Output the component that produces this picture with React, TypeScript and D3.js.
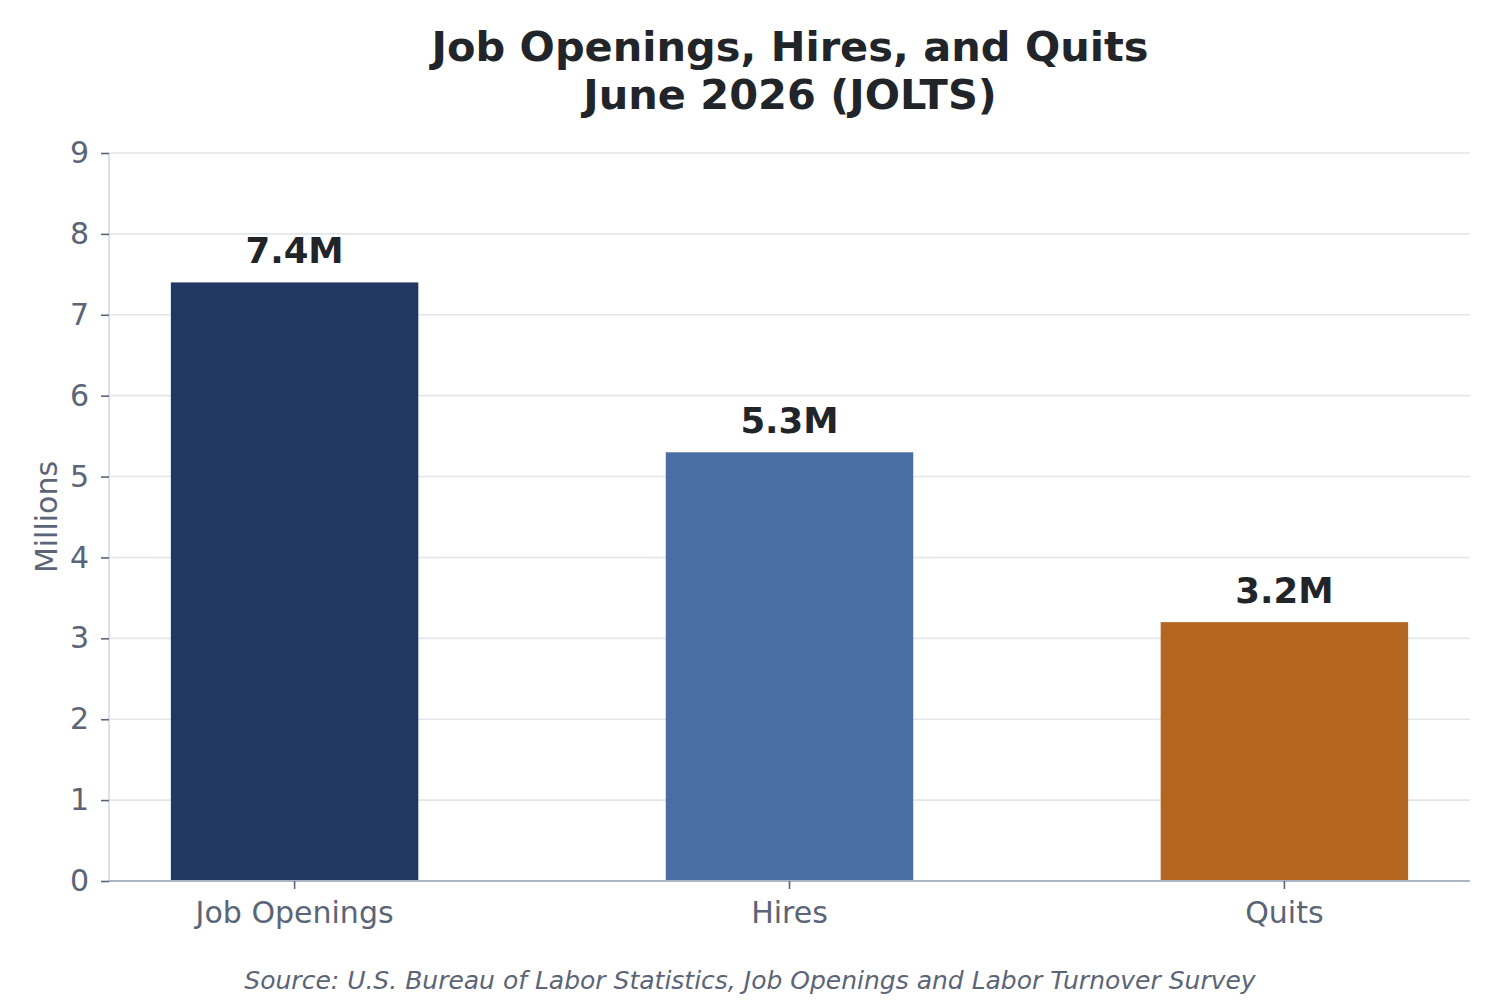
import { useEffect, useRef } from 'react';
import * as d3 from 'd3';

const categories = ['Job Openings', 'Hires', 'Quits'];
const values = [7.4, 5.3, 3.2];
const valueLabels = ['7.4M', '5.3M', '3.2M'];
const barColors = ['#213862', '#4a6ea3', '#b4651f'];
const yTicks = [0, 1, 2, 3, 4, 5, 6, 7, 8, 9];

const FONT = '"DejaVu Sans", sans-serif';

export default function App() {
  const ref = useRef<SVGSVGElement>(null);

  useEffect(() => {
    const svgElement = ref.current;
    if (!svgElement) {
      return;
    }
    const svg = d3.select(svgElement);
    svg.selectAll('*').remove();

    const width = 1500;
    const height = 1000;
    const margin = { top: 153, right: 30, bottom: 119, left: 109 };

    const x = d3
      .scaleBand<string>()
      .domain(categories)
      .range([margin.left, width - margin.right])
      .paddingInner(0.5)
      .paddingOuter(0.125);

    const y = d3
      .scaleLinear()
      .domain([0, 9])
      .range([height - margin.bottom, margin.top]);

    // grid
    svg
      .append('g')
      .selectAll('line')
      .data(yTicks)
      .join('line')
      .attr('x1', margin.left)
      .attr('x2', width - margin.right)
      .attr('y1', (d) => y(d))
      .attr('y2', (d) => y(d))
      .attr('stroke', '#e3e6ea')
      .attr('stroke-width', 1.6);

    // bars
    svg
      .append('g')
      .selectAll('rect')
      .data(values)
      .join('rect')
      .attr('x', (_d, i) => x(categories[i]) ?? 0)
      .attr('y', (d) => y(d))
      .attr('width', x.bandwidth())
      .attr('height', (d) => y(0) - y(d))
      .attr('fill', (_d, i) => barColors[i]);

    // value labels
    svg
      .append('g')
      .selectAll('text')
      .data(values)
      .join('text')
      .attr('x', (_d, i) => (x(categories[i]) ?? 0) + x.bandwidth() / 2)
      .attr('y', (d) => y(d) - 19)
      .attr('text-anchor', 'middle')
      .attr('font-family', FONT)
      .attr('font-weight', 'bold')
      .attr('font-size', 35.5)
      .attr('fill', '#212529')
      .text((_d, i) => valueLabels[i]);

    // left spine
    svg
      .append('line')
      .attr('x1', margin.left)
      .attr('x2', margin.left)
      .attr('y1', y(9))
      .attr('y2', y(0))
      .attr('stroke', '#d5dae1')
      .attr('stroke-width', 1.6);

    // bottom spine
    svg
      .append('line')
      .attr('x1', margin.left)
      .attr('x2', width - margin.right)
      .attr('y1', y(0))
      .attr('y2', y(0))
      .attr('stroke', '#aab4c3')
      .attr('stroke-width', 1.8);

    // y axis
    const yAxis = svg
      .append('g')
      .attr('transform', `translate(${margin.left},0)`)
      .call(d3.axisLeft(y).tickValues(yTicks).tickSize(8).tickPadding(12).tickFormat(d3.format('d')));
    yAxis.select('.domain').remove();
    yAxis.selectAll('line').attr('stroke', '#5b6577').attr('stroke-width', 1.6);
    yAxis
      .selectAll('text')
      .attr('font-family', FONT)
      .attr('font-size', 30)
      .attr('fill', '#5b6577');

    // x axis
    const xAxis = svg
      .append('g')
      .attr('transform', `translate(0,${y(0)})`)
      .call(d3.axisBottom(x).tickSize(8).tickPadding(13));
    xAxis.select('.domain').remove();
    xAxis.selectAll('line').attr('stroke', '#5b6577').attr('stroke-width', 1.6);
    xAxis
      .selectAll('text')
      .attr('font-family', FONT)
      .attr('font-size', 30)
      .attr('fill', '#5b6577');

    // y label
    svg
      .append('text')
      .attr('transform', `translate(57,${(y(0) + y(9)) / 2}) rotate(-90)`)
      .attr('text-anchor', 'middle')
      .attr('font-family', FONT)
      .attr('font-size', 30)
      .attr('fill', '#5b6577')
      .text('Millions');

    // title
    const title = svg
      .append('text')
      .attr('text-anchor', 'middle')
      .attr('font-family', FONT)
      .attr('font-weight', 'bold')
      .attr('font-size', 41.5)
      .attr('fill', '#212529');
    title.append('tspan').attr('x', 790).attr('y', 61).text('Job Openings, Hires, and Quits');
    title.append('tspan').attr('x', 790).attr('y', 109).text('June 2026 (JOLTS)');

    // source
    svg
      .append('text')
      .attr('x', 750)
      .attr('y', 989)
      .attr('text-anchor', 'middle')
      .attr('font-family', FONT)
      .attr('font-style', 'italic')
      .attr('font-size', 25)
      .attr('fill', '#5b6577')
      .text('Source: U.S. Bureau of Labor Statistics, Job Openings and Labor Turnover Survey');
  }, []);

  return (
    <svg
      ref={ref}
      width={1500}
      height={1000}
      viewBox="0 0 1500 1000"
      style={{ position: 'absolute', left: 0, top: 0, background: '#ffffff' }}
    />
  );
}
